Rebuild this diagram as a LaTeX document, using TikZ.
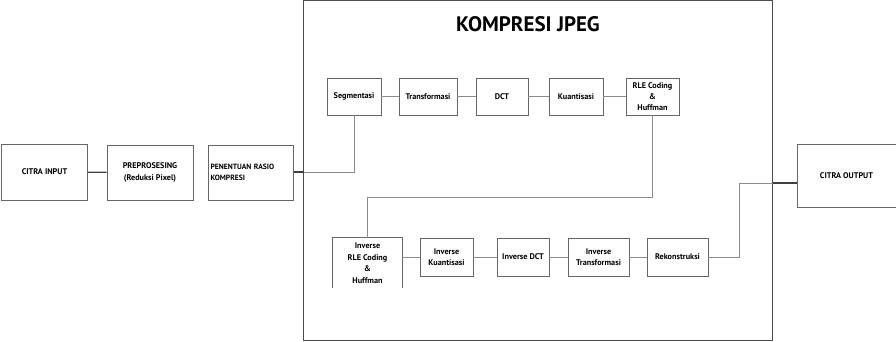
\documentclass[tikz,border=0pt]{standalone}
\usepackage{fontspec}
\setmainfont{PT Sans}
\begin{document}
\begin{tikzpicture}[x=1pt,y=-1pt,
  blk/.style={draw=black!60, line width=0.9pt, fill=white, inner sep=0pt, align=center,
              font=\bfseries\fontsize{8.2}{11.5}\selectfont},
  wire/.style={draw=black!45, line width=0.8pt},
  bus/.style={draw=black!75, line width=1.3pt}]
\useasboundingbox (0,0) rectangle (896,341);

% outer compression frame
\draw[draw=black!70, line width=0.9pt] (303.5,0.7) rectangle (772.7,340.3);
\node[font=\bfseries\fontsize{21}{24}\selectfont] (title) at (528,24) {KOMPRESI JPEG};

% input chain
\node[blk, minimum width=86, minimum height=56] (in) at (44.5,172) {CITRA INPUT};
\node[blk, minimum width=86, minimum height=55] (pre) at (150,172.5) {PREPROSESING\\(Reduksi Pixel)};
\node[blk, minimum width=85, minimum height=55, align=left, text width=81,
      font=\bfseries\fontsize{7.6}{11.5}\selectfont] (rasio) at (251,172.5) {PENENTUAN RASIO\\KOMPRESI\\[6pt]};
\node[blk, minimum width=99, minimum height=63] (out) at (846.5,175.5) {CITRA OUTPUT};

% forward row
\node[blk, minimum width=54, minimum height=37] (seg) at (354,96.5) {Segmentasi};
\node[blk, minimum width=58, minimum height=37] (tr) at (428,96.5) {Transformasi};
\node[blk, minimum width=52, minimum height=37] (dct) at (502,96.5) {DCT};
\node[blk, minimum width=54, minimum height=37] (kua) at (576,96.5) {Kuantisasi};
\node[blk, minimum width=53, minimum height=37,
      font=\bfseries\fontsize{8.2}{11}\selectfont] (rle) at (652.5,96.5) {RLE Coding\\\&\\Huffman};

% inverse row
\node[blk, draw=none, minimum width=69, minimum height=50] (irle) at (367.5,263) {Inverse\\RLE Coding\\\&\\Huffman};
\draw[draw=black!60, line width=0.9pt] (irle.south west) -- (irle.north west) -- (irle.north east) -- (irle.south east);
\node[blk, minimum width=53, minimum height=38] (ikua) at (446.5,257) {Inverse\\Kuantisasi};
\node[blk, minimum width=52, minimum height=38] (idct) at (523,257) {Inverse DCT};
\node[blk, minimum width=61, minimum height=38] (itr) at (598.5,257) {Inverse\\Transformasi};
\node[blk, minimum width=61, minimum height=38] (rek) at (677.5,257) {Rekonstruksi};

% frame entry / exit points
\coordinate (fl) at (303.5,172);
\coordinate (fr) at (772.7,183);

% connectors
\draw[bus] (in) -- (pre);
\draw[bus] (rasio.east |- fl) -- (fl);
\draw[wire] (fl) -- (seg.south |- fl) -- (seg.south);
\draw[wire] (seg) -- (tr);
\draw[wire] (tr) -- (dct);
\draw[wire] (dct) -- (kua);
\draw[wire] (kua) -- (rle);
\draw[wire] (rle.south) -- ++(0,82) -| (irle.north);
\draw[wire] (irle.east |- ikua) -- (ikua);
\draw[wire] (ikua) -- (idct);
\draw[wire] (idct) -- (itr);
\draw[wire] (itr) -- (rek);
\draw[wire] (rek.east) -- ++(31,0) |- (fr);
\draw[bus] (fr) -- (out.west |- fr);
\end{tikzpicture}
\end{document}
